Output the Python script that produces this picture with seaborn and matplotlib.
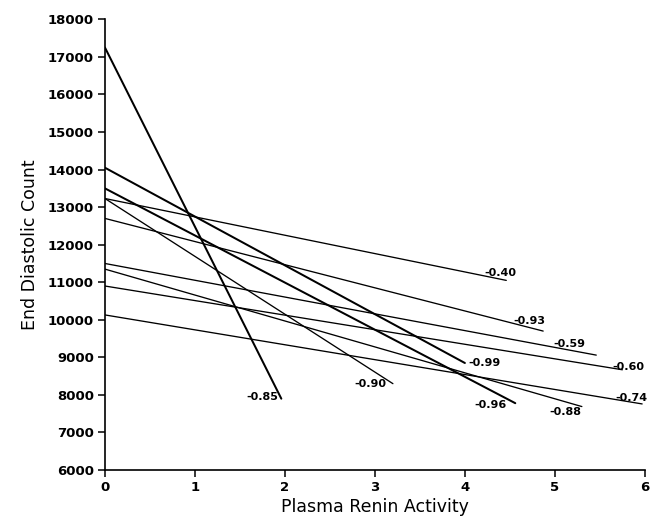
import numpy as np
import pandas as pd
import seaborn as sns
import matplotlib.pyplot as plt

# Regression lines: each starts on the y axis and runs to its end point
r_labels = ["-0.85", "-0.90", "-0.96", "-0.99", "-0.40",
            "-0.93", "-0.59", "-0.60", "-0.74", "-0.88"]
start_y = [17250, 13230, 13500, 14050, 13230, 12700, 11500, 10900, 10130, 11350]
end_x = [1.96, 3.2, 4.56, 4.0, 4.46, 4.87, 5.46, 5.75, 5.97, 5.3]
end_y = [7900, 8300, 7780, 8850, 11050, 9700, 9060, 8670, 7760, 7690]

x_ticks = [0, 1, 2, 3, 4, 5, 6]
y_ticks = list(range(6000, 18001, 1000))

# styling
thick = {"-0.85", "-0.96", "-0.99"}
label_offsets = {
    "-0.85": (-14, 1), "-0.90": (-16, 0), "-0.96": (-18, -1),
    "-0.99": (14, 0), "-0.40": (-4, 5), "-0.93": (-10, 7),
    "-0.59": (-19, 8), "-0.60": (4, 2), "-0.74": (-8, 4),
    "-0.88": (-12, -4),
}

rows = []
for lab, y0, x1, y1 in zip(r_labels, start_y, end_x, end_y):
    rows.append({"r": lab, "x": 0.0, "y": y0})
    rows.append({"r": lab, "x": x1, "y": y1})
df = pd.DataFrame(rows)

sns.set_theme(style="ticks")
plt.rcParams['font.family'] = ['DejaVu Sans']

fig = plt.figure(figsize=(6.56, 5.24), dpi=100)
ax = fig.add_axes([0.160, 0.103, 0.823, 0.860])

for lab in r_labels:
    sub = df[df["r"] == lab]
    sns.lineplot(data=sub, x="x", y="y", ax=ax, color="black",
                 linewidth=1.45 if lab in thick else 0.95,
                 estimator=None, sort=False, legend=False)
    end = sub.iloc[-1]
    ax.annotate(lab, (end["x"], end["y"]), xytext=label_offsets[lab],
                textcoords="offset points", ha="center", va="center",
                fontsize=8, fontweight="bold", color="black",
                annotation_clip=False)

ax.set_xlim(0, 6)
ax.set_ylim(6000, 18000)
ax.set_xticks(x_ticks)
ax.set_yticks(y_ticks)
ax.set_xticklabels([str(t) for t in x_ticks], fontweight="bold", fontsize=9.5)
ax.set_yticklabels([str(t) for t in y_ticks], fontweight="bold", fontsize=9.5)
ax.tick_params(direction="out", length=5, width=1.1, colors="black", pad=3)
ax.set_xlabel("Plasma Renin Activity", fontsize=12.5, color="black", labelpad=3)
ax.set_ylabel("End Diastolic Count", fontsize=12.5, color="black", labelpad=6)
sns.despine(ax=ax)
for s in ["left", "bottom"]:
    ax.spines[s].set_color("black")
    ax.spines[s].set_linewidth(1.2)

fig.savefig("out.png", dpi=100)
